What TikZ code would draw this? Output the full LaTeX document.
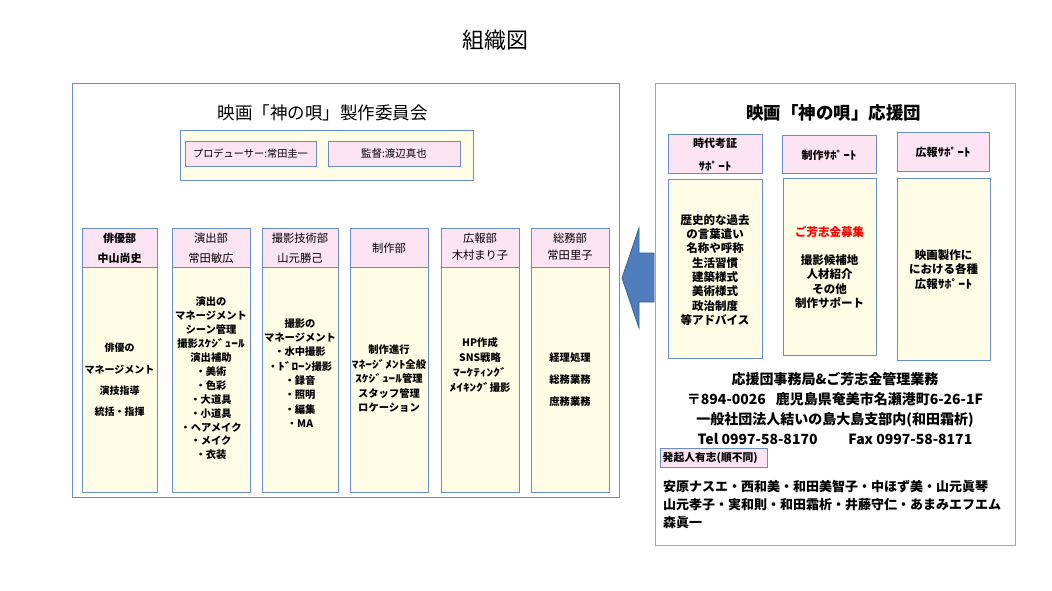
\documentclass[tikz,border=0pt]{standalone}
\usepackage{fontspec}
\setmainfont{Noto Sans CJK JP}
\definecolor{bordblue}{RGB}{105,140,205}
\definecolor{pinkf}{RGB}{252,228,242}
\definecolor{yellowf}{RGB}{255,253,230}
\definecolor{arrowf}{RGB}{79,125,190}
\definecolor{arrowd}{RGB}{55,95,155}
\definecolor{graybord}{RGB}{165,165,165}
\newcommand{\rbox}[6]{%
  \node[#1, minimum width={(#5)-(#3)}, minimum height={(#6)-(#4)}] (#2) at ({((#3)+(#5))/2},{((#4)+(#6))/2}) {};}
\newcommand{\fs}[2]{\fontsize{#1}{#2}\selectfont}
\newcommand{\hw}[1]{\scalebox{1.3}[1]{#1}}
\newcommand{\hwr}[1]{\scalebox{1.2}[1]{#1}}
\begin{document}
\begin{tikzpicture}[x=1pt,y=-1pt,
  panelb/.style={draw=bordblue, line width=0.8pt, fill=white, inner sep=0pt},
  panelg/.style={draw=graybord, line width=0.8pt, fill=white, inner sep=0pt},
  pinkbox/.style={draw=bordblue, line width=1pt, fill=pinkf, inner sep=0pt},
  yelbox/.style={draw=bordblue, line width=1pt, fill=yellowf, inner sep=0pt},
  txt/.style={align=center, inner sep=0pt, text=black},
]
\useasboundingbox (0,0) rectangle (1052,591);
\fill[white] (0,0) rectangle (1052,591);

% main title
\node[txt, font=\fs{22}{26}] (title) at (495,40) {組織図};

% left panel
\rbox{panelb}{lp}{72}{83}{619}{497}
\node[txt, font=\fs{17.5}{20}] (ltitle) at (322.5,113) {映画「神の唄」製作委員会};
\rbox{yelbox}{topbox}{180}{131}{473}{180}
\rbox{pinkbox}{prod}{185}{142}{316}{166}
\rbox{pinkbox}{dir}{328}{142}{460}{166}
\node[txt, font=\fs{10.2}{12}] (prodt) at (prod.center) {プロデューサー:常田圭一};
\node[txt, font=\fs{10.5}{12}] (dirt) at (dir.center) {監督:渡辺真也};

% columns
\rbox{pinkbox}{h1}{82}{228}{157}{267}
\rbox{yelbox}{b1}{82}{267}{157}{492}
\rbox{pinkbox}{h2}{172}{228}{250}{267}
\rbox{yelbox}{b2}{172}{267}{250}{492}
\rbox{pinkbox}{h3}{262}{228}{338}{267}
\rbox{yelbox}{b3}{262}{267}{338}{492}
\rbox{pinkbox}{h4}{350}{228}{428}{267}
\rbox{yelbox}{b4}{350}{267}{428}{492}
\rbox{pinkbox}{h5}{441}{228}{519}{267}
\rbox{yelbox}{b5}{441}{267}{519}{492}
\rbox{pinkbox}{h6}{531}{228}{609}{267}
\rbox{yelbox}{b6}{531}{267}{609}{492}

\node[txt, font=\fs{11}{20}\bfseries] (h1t) at (119.5,248) {俳優部\\中山尚史};
\node[txt, font=\fs{10}{21.3}\bfseries] (b1t) at (119.5,380) {俳優の\\マネージメント\\演技指導\\統括・指揮};

\node[txt, font=\fs{11.3}{20}] (h2t) at (211,248) {演出部\\常田敏広};
\node[txt, font=\fs{10.3}{13.9}\bfseries] (b2t) at (211,378.5) {演出の\\マネージメント\\シーン管理\\撮影\hw{ｽｹｼﾞｭｰﾙ}\\演出補助\\・美術\\・色彩\\・大道具\\・小道具\\・ヘアメイク\\・メイク\\・衣装};

\node[txt, font=\fs{11.3}{20}] (h3t) at (300,248) {撮影技術部\\山元勝己};
\node[txt, font=\fs{10.3}{14.3}\bfseries] (b3t) at (300,373) {撮影の\\マネージメント\\・水中撮影\\・\hw{ﾄﾞﾛｰﾝ}撮影\\・録音\\・照明\\・編集\\・MA};

\node[txt, font=\fs{11.3}{20}] (h4t) at (389,248) {制作部};
\node[txt, font=\fs{10.3}{14.5}\bfseries] (b4t) at (389,379) {制作進行\\\hw{ﾏﾈｰｼﾞﾒﾝﾄ}全般\\\hw{ｽｹｼﾞｭｰﾙ}管理\\スタッフ管理\\ロケーション};

\node[txt, font=\fs{11.3}{17}] (h5t) at (480,246.5) {広報部\\木村まり子};
\node[txt, font=\fs{10.3}{15.3}\bfseries] (b5t) at (480,365) {HP作成\\SNS戦略\\\hw{ﾏｰｹﾃｨﾝｸﾞ}\\\hw{ﾒｲｷﾝｸﾞ}撮影};

\node[txt, font=\fs{11.3}{17}] (h6t) at (570,246.5) {総務部\\常田里子};
\node[txt, font=\fs{10.3}{22}\bfseries] (b6t) at (570,380) {経理処理\\総務業務\\庶務業務};

% right panel
\rbox{panelg}{rp}{655}{83}{1015}{545}
\node[txt, font=\fs{17.5}{20}\bfseries] (rtitle) at (833.5,113) {映画「神の唄」応援団};
\rbox{pinkbox}{ha}{668}{135}{762}{173}
\rbox{pinkbox}{hb}{782}{136}{876}{173}
\rbox{pinkbox}{hc}{897}{133}{989}{171}
\rbox{yelbox}{ba}{668}{179}{762}{358}
\rbox{yelbox}{bb}{783}{178}{876}{355}
\rbox{yelbox}{bc}{897}{178}{990}{360}

\node[txt, font=\fs{11}{23}\bfseries] (hat) at (715,154.5) {時代考証\\\hwr{ｻﾎﾟｰﾄ}};
\node[txt, font=\fs{11}{14}\bfseries] (hbt) at (829,155) {制作\hwr{ｻﾎﾟｰﾄ}};
\node[txt, font=\fs{11}{14}\bfseries] (hct) at (943,152) {広報\hwr{ｻﾎﾟｰﾄ}};

\node[txt, font=\fs{11.5}{14.3}\bfseries] (bat) at (715,270) {歴史的な過去\\の言葉遣い\\名称や呼称\\生活習慣\\建築様式\\美術様式\\政治制度\\等アドバイス};
\node[txt, font=\fs{11.5}{14.3}\bfseries, text=red] (bbr) at (829.5,232) {ご芳志金募集};
\node[txt, font=\fs{11.5}{14.3}\bfseries] (bbt) at (829.5,281.5) {撮影候補地\\人材紹介\\その他\\制作サポート};
\node[txt, font=\fs{11.5}{14.5}\bfseries] (bct) at (943.5,269.5) {映画製作に\\における各種\\広報\hwr{ｻﾎﾟｰﾄ}};

\node[txt, font=\fs{14}{20}\bfseries] (office) at (835,408) {応援団事務局\&ご芳志金管理業務\\〒894-0026\hspace{0.7em}鹿児島県奄美市名瀬港町6-26-1F\\一般社団法人結いの島大島支部内(和田霜析)\\Tel 0997-58-8170\hspace{2.2em}Fax 0997-58-8171};

\rbox{pinkbox}{founder}{660}{448}{767}{467}
\node[txt, anchor=west, font=\fs{10.8}{12}\bfseries] (foundert) at (662.5,457.5) {発起人有志(順不同)};
\node[txt, anchor=west, align=left, font=\fs{13}{18}\bfseries] (names) at (663,505) {安原ナスエ・西和美・和田美智子・中ほず美・山元眞琴\\山元孝子・実和則・和田霜析・井藤守仁・あまみエフエム\\森眞一};

% arrow
\draw[fill=arrowf, draw=arrowd, line width=0.8pt, line join=miter]
  (622,278) -- (639,228) -- (639,253) -- (654,253) -- (654,302) -- (639,302) -- (639,328) -- cycle;
\end{tikzpicture}
\end{document}
